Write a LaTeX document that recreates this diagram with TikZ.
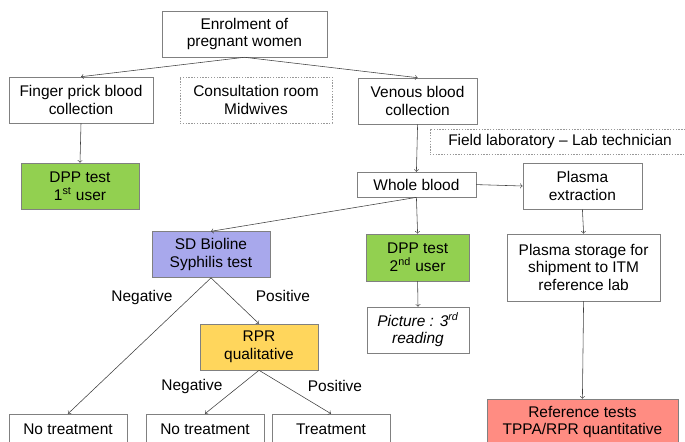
\documentclass[tikz,border=0pt]{standalone}
\usepackage{fontspec}
\setmainfont{Liberation Sans}
\usepackage{xcolor}
\usetikzlibrary{shapes,arrows,positioning,calc}

\definecolor{dppgreen}{HTML}{92D050}
\definecolor{sdblue}{HTML}{A8A8EC}
\definecolor{rpryellow}{HTML}{FFD65C}
\definecolor{refred}{HTML}{FF8C82}

\tikzset{
    box/.style={draw=black!50, inner sep=0pt, align=center, minimum height=1.15cm,
        font=\fontsize{11pt}{12.6pt}\selectfont},
    zonebox/.style={box, draw=black!40, dash pattern=on 1pt off 1pt},
    flow/.style={->, draw=black!75, line width=0.4pt},
    lbl/.style={font=\fontsize{11pt}{12.6pt}\selectfont}
}

\begin{document}
\begin{tikzpicture}
    \clip (0,0) rectangle (17.125,11.025);

    % Enrolment and collection
    \node[box, minimum width=4.125cm] (enrol) at (6.11, 10.175) {Enrolment of\\pregnant women};
    \node[box, minimum width=3.6cm] (finger) at (2.025, 8.525) {Finger prick blood\\collection};
    \node[zonebox, minimum width=3.8cm] (consult) at (6.4, 8.525) {Consultation room\\Midwives};
    \node[box, minimum width=2.975cm] (venous) at (10.44, 8.5) {Venous blood\\collection};
    \node[zonebox, minimum width=6.5cm, minimum height=0.625cm] (fieldlab) at (14.0, 7.4875) {Field laboratory -- Lab technician};

    % First line tests
    \node[box, fill=dppgreen, minimum width=2.95cm] (dppone) at (2.0, 6.375) {DPP test\\1\textsuperscript{st} user};
    \node[box, minimum width=2.975cm, minimum height=0.625cm] (whole) at (10.41, 6.41) {Whole blood};
    \node[box, minimum width=2.975cm] (plasma) at (14.56, 6.375) {Plasma\\extraction};

    \node[box, fill=sdblue, minimum width=2.95cm] (sdbio) at (5.275, 4.66) {SD Bioline\\Syphilis test};
    \node[box, fill=dppgreen, minimum width=2.575cm, minimum height=1.175cm] (dpptwo) at (10.44, 4.59) {DPP test\\2\textsuperscript{nd} user};
    \node[box, minimum width=3.825cm, minimum height=1.675cm] (storage) at (14.59, 4.34) {Plasma storage for\\shipment to ITM\\reference lab};
    \node[box, minimum width=2.55cm] (picture) at (10.45, 2.775) {\itshape Picture : 3\textsuperscript{rd}\\\itshape reading};

    % Confirmation and treatment
    \node[box, fill=rpryellow, minimum width=2.95cm] (rpr) at (6.475, 2.35) {RPR\\qualitative};
    \node[box, minimum width=2.95cm, minimum height=0.75cm] (notreatA) at (1.7, 0.3) {No treatment};
    \node[box, minimum width=2.95cm, minimum height=0.75cm] (notreatB) at (5.125, 0.3) {No treatment};
    \node[box, minimum width=2.95cm, minimum height=0.75cm] (treat) at (8.275, 0.3) {Treatment};
    \node[box, fill=refred, minimum width=4.775cm] (reftests) at (14.56, 0.475) {Reference tests\\TPPA/RPR quantitative};

    % Arrows
    \draw[flow] (enrol.south) -- (finger.north);
    \draw[flow] (enrol.south) -- (venous.north);
    \draw[flow] (finger.south) -- (dppone.north);
    \draw[flow] (venous.south) -- (whole.north);
    \draw[flow] (whole.east) -- (plasma.west);
    \draw[flow] (whole.south) -- (sdbio.north);
    \draw[flow] (whole.south) -- (dpptwo.north);
    \draw[flow] (plasma.south) -- (storage.north);
    \draw[flow] (dpptwo.south) -- (picture.north);
    \draw[flow] (storage.south) -- (reftests.north);
    \draw[flow] (sdbio.south) -- (notreatA.north);
    \draw[flow] (sdbio.south) -- (rpr.north);
    \draw[flow] (rpr.south) -- (notreatB.north);
    \draw[flow] (rpr.south) -- (treat.north);

    % Results
    \node[lbl] (negA) at (3.55, 3.575) {Negative};
    \node[lbl] (posA) at (7.075, 3.625) {Positive};
    \node[lbl] (negB) at (4.8, 1.375) {Negative};
    \node[lbl] (posB) at (8.375, 1.375) {Positive};
\end{tikzpicture}
\end{document}
